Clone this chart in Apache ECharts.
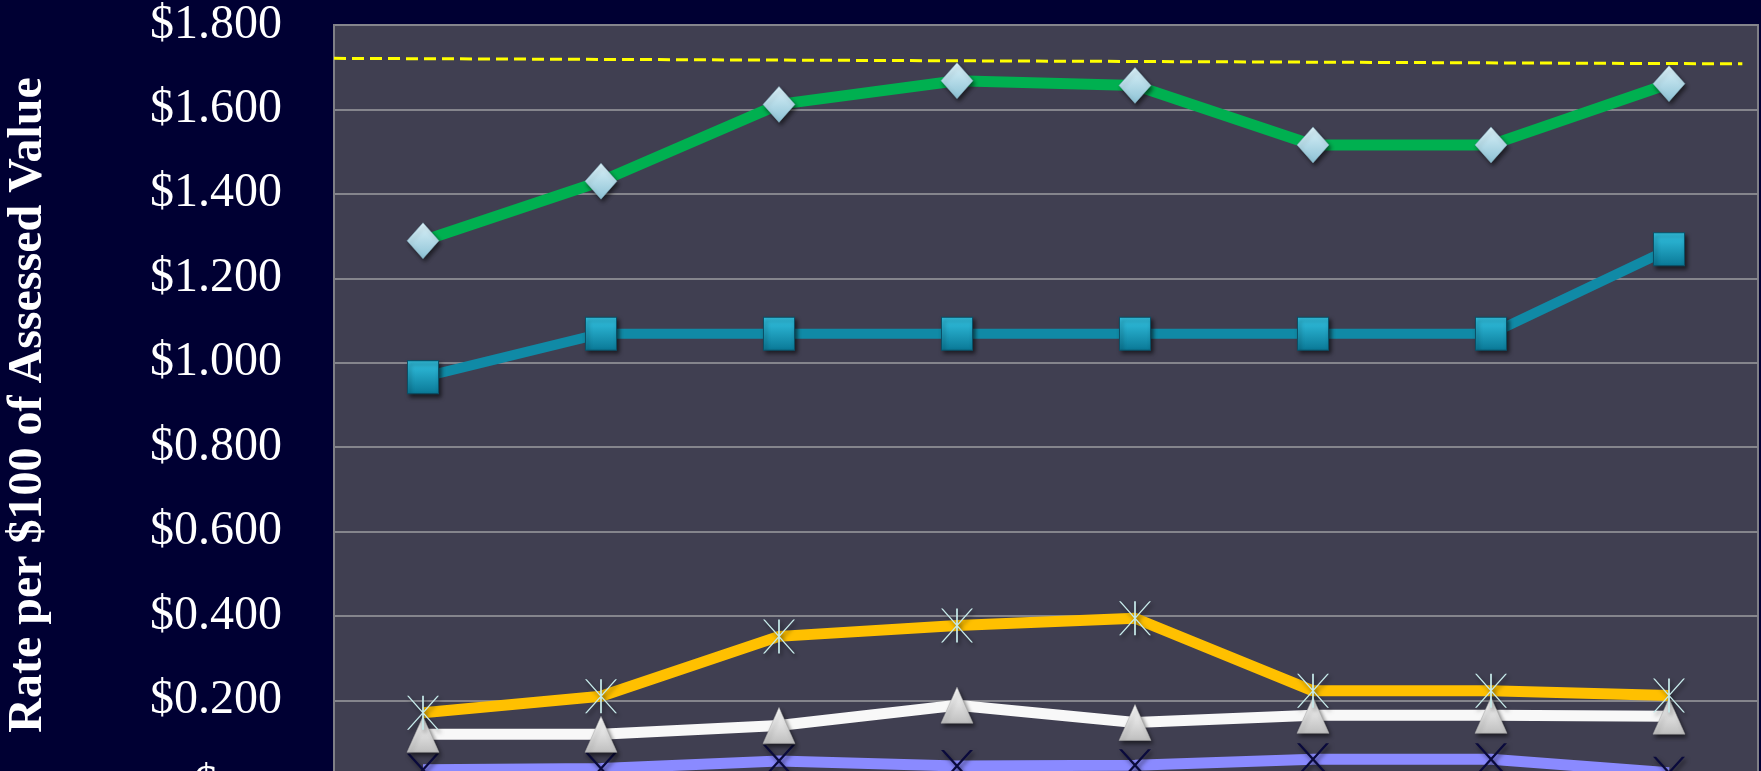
<!DOCTYPE html>
<html>
<head>
<meta charset="utf-8">
<script src="https://cdn.jsdelivr.net/npm/echarts@6/dist/echarts.min.js"></script>
<style>
  html, body { margin: 0; padding: 0; background: #000033; overflow: hidden; }
  #chart { width: 1761px; height: 771px; }
</style>
</head>
<body>
<div id="chart"></div>
<script>
// ---- data ----
const categories = ['Year 1', 'Year 2', 'Year 3', 'Year 4', 'Year 5', 'Year 6', 'Year 7', 'Year 8'];
const seriesGreen  = [1.289, 1.430, 1.612, 1.668, 1.657, 1.516, 1.516, 1.661];
const seriesTeal   = [0.966, 1.069, 1.069, 1.069, 1.069, 1.069, 1.069, 1.269];
const seriesOrange = [0.171, 0.210, 0.352, 0.378, 0.395, 0.223, 0.223, 0.212];
const seriesWhite  = [0.120, 0.120, 0.141, 0.189, 0.148, 0.165, 0.165, 0.163];
const seriesPurple = [0.036, 0.039, 0.057, 0.045, 0.047, 0.061, 0.061, 0.029];
// dashed reference line: [position along plot width (0..1), value]
const refLine = [[0, 1.721], [0.989, 1.708]];
const yTicks = { min: 0, max: 1.8, interval: 0.2 };
const yAxisTitle = 'Rate per $100 of Assessed Value';

const chart = echarts.init(document.getElementById('chart'));

const shadow = { shadowBlur: 4, shadowOffsetX: 2, shadowOffsetY: 3, shadowColor: 'rgba(0,0,0,0.55)' };
const grad = (c1, c2) => new echarts.graphic.LinearGradient(0, 0, 0, 1, [{ offset: 0, color: c1 }, { offset: 1, color: c2 }]);

const asteriskPath = 'path://M13,0L17,0L87,100L83,100Z M83,0L87,0L17,100L13,100Z M48,0L52,0L52,100L48,100Z';
const xPath = 'path://M8,0L16,0L92,100L84,100Z M84,0L92,0L16,100L8,100Z';

function lineSeries(name, data, lineColor, width, symbol, size, itemStyle) {
  return {
    name, type: 'line', data,
    xAxisIndex: 0, yAxisIndex: 0,
    symbol, symbolSize: size,
    showAllSymbol: true,
    lineStyle: { color: lineColor, width: width },
    itemStyle: Object.assign({}, shadow, itemStyle),
    emphasis: { disabled: true },
    animation: false,
    z: 3
  };
}

const option = {
  backgroundColor: '#000033',
  animation: false,
  grid: {
    left: 334, right: 3, top: 25, height: 760,
    outerBoundsMode: 'none', containLabel: false,
    show: true, backgroundColor: '#403F51', borderColor: '#7f7f86', borderWidth: 2
  },
  xAxis: [
    {
      type: 'category', data: categories, boundaryGap: true,
      axisLine: { show: false }, axisTick: { show: false }, axisLabel: { show: false },
      splitLine: { show: false }
    },
    {
      type: 'value', min: 0, max: 1, show: false, position: 'top'
    }
  ],
  yAxis: {
    type: 'value', min: yTicks.min, max: yTicks.max, interval: yTicks.interval,
    name: yAxisTitle, nameLocation: 'middle', nameRotate: 90, nameGap: 281,
    nameTextStyle: { color: '#ffffff', fontFamily: 'Liberation Serif', fontWeight: 'bold', fontSize: 48 },
    axisLine: { show: true, lineStyle: { color: '#7f7f86', width: 2 } },
    axisTick: { show: false },
    axisLabel: {
      color: '#ffffff', fontFamily: 'Liberation Serif', fontSize: 48, margin: 52,
      formatter: v => v === 0 ? '$ -   ' : '$' + v.toFixed(3)
    },
    splitLine: { show: true, lineStyle: { color: '#85858c', width: 2 } }
  },
  series: [
    {
      name: 'Reference', type: 'line', data: refLine, xAxisIndex: 1, yAxisIndex: 0,
      symbol: 'none', lineStyle: { color: '#FFFF00', width: 3, type: [12, 6] },
      z: 2, animation: false
    },
    lineSeries('Series 5', seriesPurple, '#8A8AFF', 11, xPath, [32, 32], { color: '#0A0A3C' }),
    lineSeries('Series 4', seriesWhite, '#F8F8F8', 11, 'triangle', [32, 36],
      { color: grad('#FFFFFF', '#BEBEBE'), borderColor: '#a8a8a8', borderWidth: 0.5 }),
    lineSeries('Series 3', seriesOrange, '#FFC000', 11, asteriskPath, [32, 34], { color: '#C6EAEA' }),
    lineSeries('Series 2', seriesTeal, '#108AA6', 10, 'rect', [31, 33],
      { color: grad('#33C3E2', '#0A7896'), borderColor: '#0B4F66', borderWidth: 1 }),
    lineSeries('Series 1', seriesGreen, '#00B050', 11, 'diamond', [32, 36],
      { color: grad('#DDF3FA', '#8CC2D5'), borderColor: '#7FA9B8', borderWidth: 0.5 })
  ]
};

chart.setOption(option);
</script>
</body>
</html>
